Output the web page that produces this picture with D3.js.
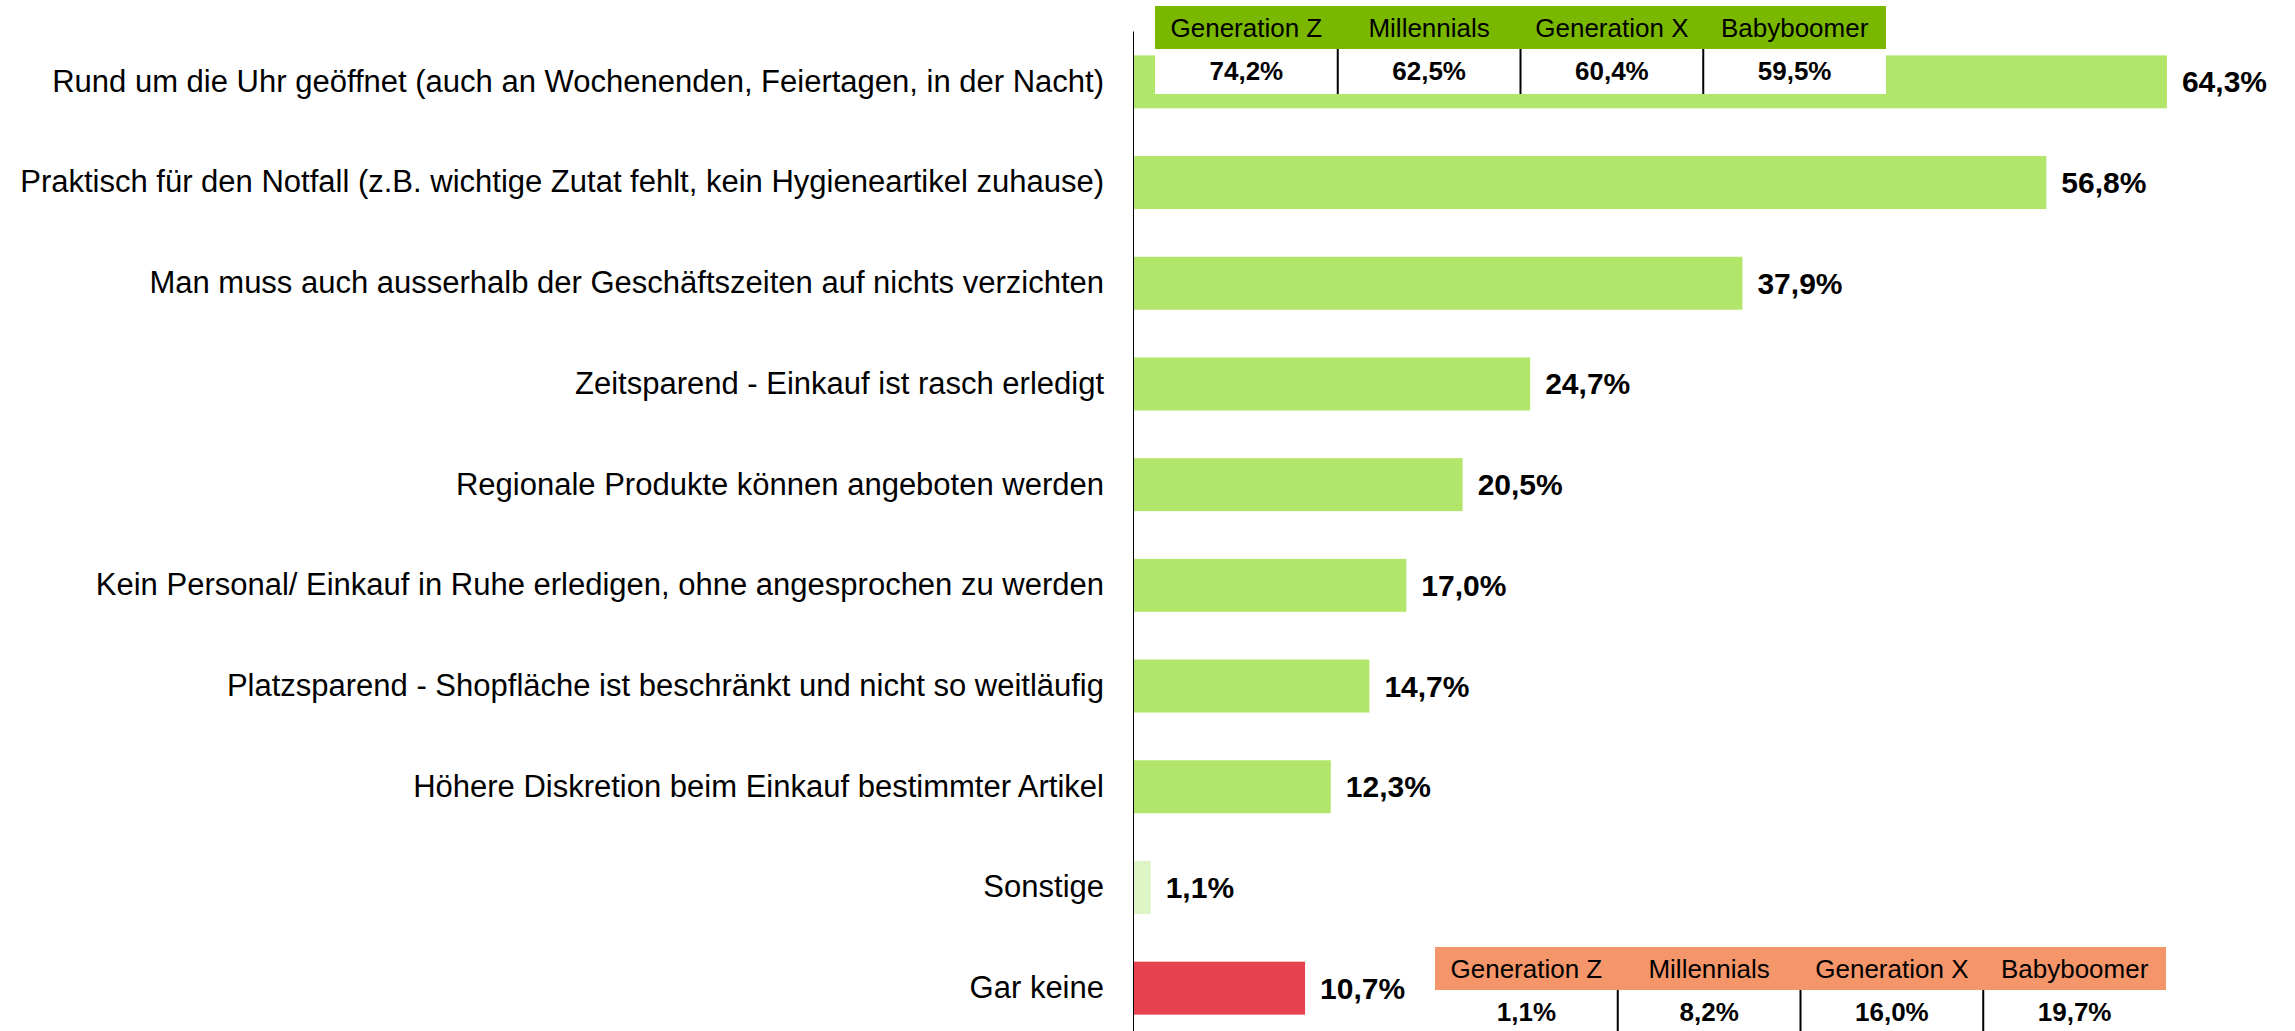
<!DOCTYPE html>
<html>
<head>
<meta charset="utf-8">
<script src="https://cdn.jsdelivr.net/npm/d3@7"></script>
<style>
  html, body { margin: 0; padding: 0; background: #fff; }
  svg { display: block; font-family: Arial, 'Liberation Sans', Helvetica, sans-serif; }
</style>
</head>
<body>
<script>
const categories = [
  'Rund um die Uhr geöffnet (auch an Wochenenden, Feiertagen, in der Nacht)',
  'Praktisch für den Notfall (z.B. wichtige Zutat fehlt, kein Hygieneartikel zuhause)',
  'Man muss auch ausserhalb der Geschäftszeiten auf nichts verzichten',
  'Zeitsparend - Einkauf ist rasch erledigt',
  'Regionale Produkte können angeboten werden',
  'Kein Personal/ Einkauf in Ruhe erledigen, ohne angesprochen zu werden',
  'Platzsparend - Shopfläche ist beschränkt und nicht so weitläufig',
  'Höhere Diskretion beim Einkauf bestimmter Artikel',
  'Sonstige',
  'Gar keine'
];
const values = [64.3, 56.8, 37.9, 24.7, 20.5, 17.0, 14.7, 12.3, 1.1, 10.7];
const barColors = ['#b2e66a', '#b2e66a', '#b2e66a', '#b2e66a', '#b2e66a', '#b2e66a', '#b2e66a', '#b2e66a', '#ddf4c4', '#e5414f'];

const generations = ['Generation Z', 'Millennials', 'Generation X', 'Babyboomer'];
const genOpen = [74.2, 62.5, 60.4, 59.5];   // Rund um die Uhr geöffnet
const genNone = [1.1, 8.2, 16.0, 19.7];     // Gar keine

const width = 2295, height = 1031;
const fmt = v => d3.format('.1f')(v).replace('.', ',') + '%';

const svg = d3.select('body').append('svg')
  .attr('width', width)
  .attr('height', height);

const x = d3.scaleLinear().domain([0, 100]).range([1133, 1133 + 1608]);
const y = d3.scaleBand().domain(categories)
  .range([31.5, 1038.5])
  .paddingInner(0.474)
  .paddingOuter(0.237);

// bars
svg.append('g').selectAll('rect')
  .data(values)
  .enter().append('rect')
  .attr('x', x(0))
  .attr('y', (d, i) => y(categories[i]))
  .attr('width', d => x(d) - x(0))
  .attr('height', y.bandwidth())
  .attr('fill', (d, i) => barColors[i]);

// value labels
svg.append('g').selectAll('text')
  .data(values)
  .enter().append('text')
  .attr('x', d => x(d) + 15)
  .attr('y', (d, i) => y(categories[i]) + y.bandwidth() / 2)
  .attr('dy', '0.35em')
  .style('font-size', '30px')
  .style('font-weight', 'bold')
  .attr('fill', '#000')
  .text(fmt);

// category axis
const yAxis = svg.append('g')
  .attr('transform', 'translate(' + x(0) + ',0)')
  .call(d3.axisLeft(y).tickSize(0).tickPadding(29));
yAxis.select('.domain').remove();
yAxis.selectAll('text')
  .style('font-size', '31px')
  .style('font-family', 'Arial, Liberation Sans, sans-serif')
  .attr('fill', '#000');

svg.append('line')
  .attr('x1', x(0) + 0.5).attr('x2', x(0) + 0.5)
  .attr('y1', 31.5).attr('y2', height)
  .attr('stroke', '#000')
  .attr('stroke-width', 1);

// small generation tables
function genTable(left, top, fill, vals) {
  const colW = 731 / generations.length;
  const g = svg.append('g').attr('transform', 'translate(' + left + ',' + top + ')');
  g.append('rect')
    .attr('x', 0).attr('y', 0)
    .attr('width', 731).attr('height', 43)
    .attr('fill', fill);
  g.append('rect')
    .attr('x', 0).attr('y', 43)
    .attr('width', 731).attr('height', 45)
    .attr('fill', '#fff');
  g.selectAll('.hd')
    .data(generations)
    .enter().append('text')
    .attr('class', 'hd')
    .attr('x', (d, i) => colW * i + colW / 2)
    .attr('y', 22)
    .attr('dy', '0.35em')
    .attr('text-anchor', 'middle')
    .style('font-size', '26px')
    .attr('fill', '#000')
    .text(d => d);
  g.selectAll('.vl')
    .data(vals)
    .enter().append('text')
    .attr('class', 'vl')
    .attr('x', (d, i) => colW * i + colW / 2)
    .attr('y', 43 + 22)
    .attr('dy', '0.35em')
    .attr('text-anchor', 'middle')
    .style('font-size', '26px')
    .style('font-weight', 'bold')
    .attr('fill', '#000')
    .text(fmt);
  g.selectAll('.sep')
    .data(d3.range(1, generations.length))
    .enter().append('line')
    .attr('class', 'sep')
    .attr('x1', d => colW * d).attr('x2', d => colW * d)
    .attr('y1', 43).attr('y2', 88)
    .attr('stroke', '#000')
    .attr('stroke-width', 2);
}

genTable(1155, 6, '#7ab800', genOpen);
genTable(1435, 947, '#f4956a', genNone);
</script>
</body>
</html>
